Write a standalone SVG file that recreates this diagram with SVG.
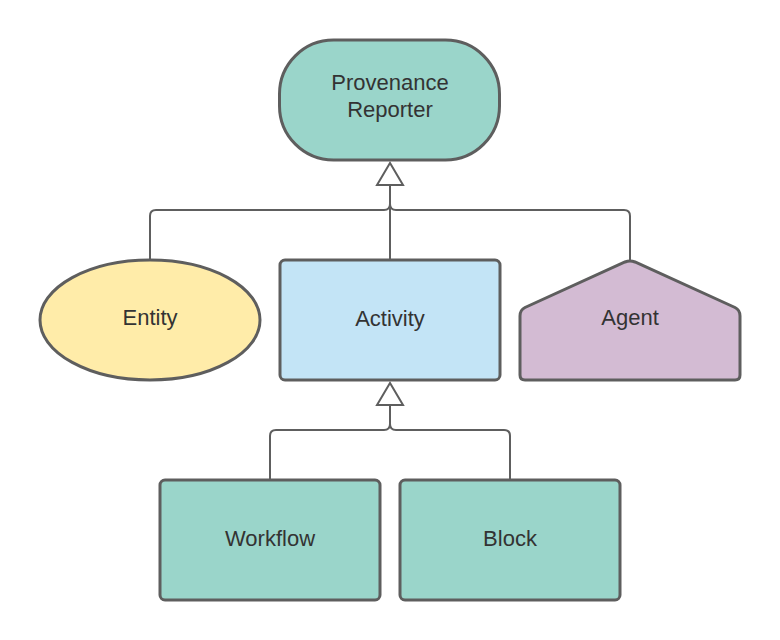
<svg xmlns="http://www.w3.org/2000/svg" width="780" height="640" viewBox="0 0 780 640">
<style>
.n{stroke:#5e5e5e;stroke-width:3}
.t{font-family:"Liberation Sans",Arial,sans-serif;font-size:22px;fill:#333;text-anchor:middle}
.c{fill:none;stroke:#5e5e5e;stroke-width:2}
.a{fill:#fff;stroke:#5e5e5e;stroke-width:2}
</style>
<rect width="780" height="640" fill="#fff"/>
<g id="connectors">
<path class="c" d="M150 260V216Q150 210 156 210H384Q390 210 390 204"/>
<path class="c" d="M630 260V216Q630 210 624 210H396Q390 210 390 204"/>
<path class="c" d="M390 260V185"/>
<polygon class="a" points="390,163 377,185 403,185"/>
<path class="c" d="M270 480V436Q270 430 276 430H384Q390 430 390 424"/>
<path class="c" d="M510 480V436Q510 430 504 430H396Q390 430 390 424"/>
<polygon class="a" points="390,383 377,405 403,405"/>
<path class="c" d="M390 405V424"/>
</g>
<g id="provenance-reporter">
<rect class="n" x="279.5" y="40" width="220" height="120" rx="54" fill="#9ad5ca"/>
<text class="t" x="390" y="90">Provenance</text>
<text class="t" x="390" y="117">Reporter</text>
</g>
<g id="entity">
<ellipse class="n" cx="150" cy="320" rx="110" ry="60" fill="#ffeca9"/>
<text class="t" x="150" y="325">Entity</text>
</g>
<g id="activity">
<rect class="n" x="280" y="260" width="220" height="120" rx="5" fill="#c3e4f6"/>
<text class="t" x="390" y="326">Activity</text>
</g>
<g id="agent">
<path class="n" d="M520 316L520 375Q520 380 525 380H735Q740 380 740 375V316Q740 310 735 307.5L635 262Q630 260 625 262L525 307.5Q520 310 520 316Z" fill="#d3bbd3"/>
<text class="t" x="630" y="325">Agent</text>
</g>
<g id="workflow">
<rect class="n" x="160" y="480" width="220" height="120" rx="5" fill="#9ad5ca"/>
<text class="t" x="270" y="546">Workflow</text>
</g>
<g id="block">
<rect class="n" x="400" y="480" width="220" height="120" rx="5" fill="#9ad5ca"/>
<text class="t" x="510" y="546">Block</text>
</g>
</svg>
